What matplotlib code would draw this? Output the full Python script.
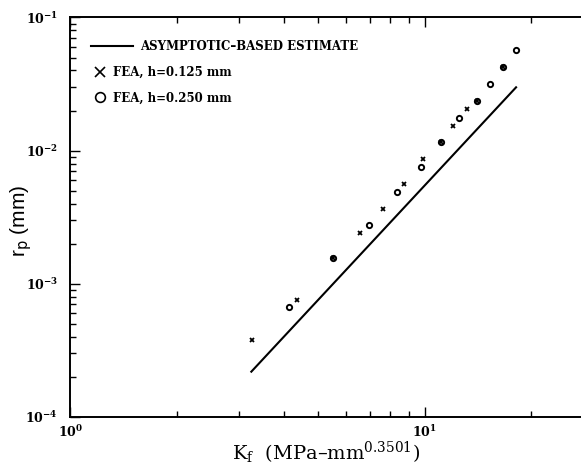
import numpy as np
import matplotlib
matplotlib.use("Agg")
import matplotlib.pyplot as plt
from matplotlib.lines import Line2D
from matplotlib.ticker import LogLocator, FixedLocator, NullFormatter, FuncFormatter

# ---- data ----
K_line = [3.24, 18.1]
r_line = [2.19e-4, 2.99e-2]

K_fea125 = [3.25, 4.36, 5.51, 6.57, 7.63, 8.74, 9.90, 11.1, 12.0, 13.2, 14.0, 16.6]
r_fea125 = [3.79e-4, 7.57e-4, 1.56e-3, 2.41e-3, 3.65e-3, 5.62e-3, 8.73e-3,
            1.16e-2, 1.53e-2, 2.06e-2, 2.36e-2, 4.22e-2]

K_fea250 = [4.13, 5.51, 6.97, 8.36, 9.77, 11.1, 12.5, 14.0, 15.3, 16.6, 18.1]
r_fea250 = [6.71e-4, 1.56e-3, 2.77e-3, 4.90e-3, 7.48e-3, 1.16e-2, 1.77e-2,
            2.36e-2, 3.15e-2, 4.22e-2, 5.70e-2]

label_line = "ASYMPTOTIC\u2013BASED ESTIMATE"
label_125 = "FEA, h=0.125 mm"
label_250 = "FEA, h=0.250 mm"
xlabel = "K$_\\mathrm{f}$  (MPa\u2013mm$^{\\mathrm{0.3501}}$)"
ylabel = "r$_\\mathsf{p}$ (mm)"

plt.rcParams['mathtext.fontset'] = 'dejavuserif'

fig = plt.figure(figsize=(5.81, 4.65), dpi=100)
ax = fig.add_axes([0.1212, 0.1032, 1.0 - 0.1212, 0.9624 - 0.1032])

ax.set_xscale('log')
ax.set_yscale('log')
ax.set_xlim(1, 27.6)
ax.set_ylim(1e-4, 1e-1)

ln, = ax.plot(K_line, r_line, color='black', lw=1.5)
p1, = ax.plot(K_fea125, r_fea125, linestyle='none', marker='x', ms=3.5, mew=1.3, color='black')
p2, = ax.plot(K_fea250, r_fea250, linestyle='none', marker='o', ms=3.8, mew=1.4,
              mfc='none', mec='black')

for s in ['left', 'bottom', 'top']:
    ax.spines[s].set_linewidth(1.4)
ax.spines['right'].set_visible(False)

pow_fmt = FuncFormatter(lambda v, p: r'$\mathbf{10^{%d}}$' % int(round(np.log10(v))))

ax.xaxis.set_major_locator(FixedLocator([1, 10]))
ax.xaxis.set_minor_locator(FixedLocator([2, 3, 4, 5, 6, 7, 8, 9, 20]))
ax.xaxis.set_major_formatter(pow_fmt)
ax.xaxis.set_minor_formatter(NullFormatter())
ax.yaxis.set_major_locator(LogLocator(base=10, numticks=10))
ax.yaxis.set_minor_locator(LogLocator(base=10, subs=range(2, 10), numticks=10))
ax.yaxis.set_major_formatter(pow_fmt)
ax.yaxis.set_minor_formatter(NullFormatter())

ax.tick_params(which='both', direction='in', top=True, right=False,
               labelsize=9, width=1.0)
ax.tick_params(axis='x', pad=5)
ax.tick_params(axis='y', pad=9)
ax.tick_params(which='major', length=7)
ax.tick_params(which='minor', length=4)

ax.set_xlabel(xlabel, family='DejaVu Serif', fontsize=14, labelpad=0)
ax.set_ylabel(ylabel, family='Liberation Sans', fontsize=15)
ax.yaxis.set_label_coords(-0.072, 0.49)

leg1 = ax.legend([ln], [label_line], loc='upper left', bbox_to_anchor=(0.02, 0.97),
                 frameon=False, handlelength=3.5, handletextpad=0.6,
                 prop={'family': 'DejaVu Serif', 'weight': 'bold', 'size': 8.5})
ax.add_artist(leg1)
h1 = Line2D([], [], linestyle='none', marker='x', ms=7, mew=1.2, color='black')
h2 = Line2D([], [], linestyle='none', marker='o', ms=7, mew=1.2, mfc='none', mec='black')
leg2 = ax.legend([h1, h2], [label_125, label_250], loc='upper left',
                 bbox_to_anchor=(0.025, 0.905), frameon=False, handlelength=1.0,
                 handletextpad=0.6, labelspacing=1.05,
                 prop={'family': 'DejaVu Serif', 'weight': 'bold', 'size': 8.5})

fig.savefig("out.png", dpi=100)
